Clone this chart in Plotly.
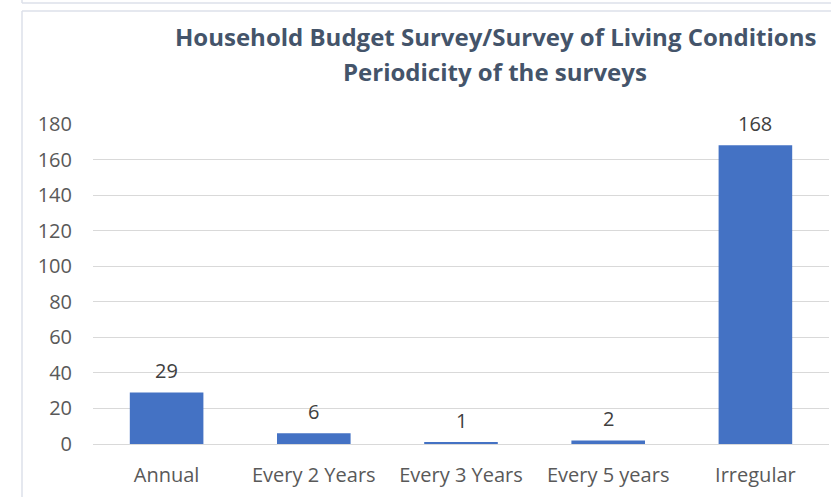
import plotly.graph_objects as go

categories = ["Annual", "Every 2 Years", "Every 3 Years", "Every 5 years", "Irregular"]
values = [29, 6, 1, 2, 168]
y_ticks = [0, 20, 40, 60, 80, 100, 120, 140, 160, 180]
title_lines = ["Household Budget Survey/Survey of Living Conditions", "Periodicity of the surveys"]

W, H = 831, 497
L, R, T, B = 93, 2, 124, 53
pw, ph = W - L - R, H - T - B

def px(x):
    return (x - L) / pw

def py(y):
    return (H - B - y) / ph

fig = go.Figure()
fig.add_trace(go.Bar(
    x=categories, y=values, width=0.5,
    marker=dict(color="#4472C4", line=dict(width=0)),
    hoverinfo="skip",
))

for c, v in zip(categories, values):
    fig.add_annotation(x=c, y=v, text=str(v), showarrow=False, yanchor="middle", yshift=22,
                       font=dict(family="Open Sans", size=20, color="#404040"))

fig.add_annotation(xref="paper", yref="paper", x=px(495), y=py(37), text="<b>" + title_lines[0] + "</b>",
                   showarrow=False, xanchor="center", yanchor="middle",
                   font=dict(family="Open Sans", size=24, color="#44546A"))
fig.add_annotation(xref="paper", yref="paper", x=px(495), y=py(72), text="<b>" + title_lines[1] + "</b>",
                   showarrow=False, xanchor="center", yanchor="middle",
                   font=dict(family="Open Sans", size=24, color="#44546A"))

frame = "#DCE1EA"
fig.add_shape(type="line", xref="paper", yref="paper", x0=px(22), x1=px(840), y0=py(3), y1=py(3),
              line=dict(color=frame, width=1.5))
fig.add_shape(type="line", xref="paper", yref="paper", x0=px(22), x1=px(22), y0=py(0), y1=py(3),
              line=dict(color=frame, width=1.5))
fig.add_shape(type="line", xref="paper", yref="paper", x0=px(22), x1=px(840), y0=py(11), y1=py(11),
              line=dict(color=frame, width=1.5))
fig.add_shape(type="line", xref="paper", yref="paper", x0=px(22), x1=px(22), y0=py(11), y1=py(500),
              line=dict(color=frame, width=1.5))

fig.update_layout(
    width=W, height=H,
    margin=dict(l=L, r=R, t=T, b=B, pad=0),
    paper_bgcolor="white", plot_bgcolor="white",
    showlegend=False,
    xaxis=dict(showgrid=False, showline=False, ticks="", ticklabelstandoff=17,
               tickfont=dict(family="Open Sans", size=20, color="#595959")),
    yaxis=dict(range=[0, 180], tickvals=y_ticks, showgrid=True, gridcolor="#D9D9D9", gridwidth=1,
               zeroline=True, zerolinecolor="#D9D9D9", zerolinewidth=1, ticks="",
               ticklabelstandoff=20, showline=False,
               tickfont=dict(family="Open Sans", size=20, color="#595959")),
)

fig.write_html("out.html", config={"displayModeBar": False},
               post_script="document.body.style.margin='0px';document.body.style.overflow='hidden';")
